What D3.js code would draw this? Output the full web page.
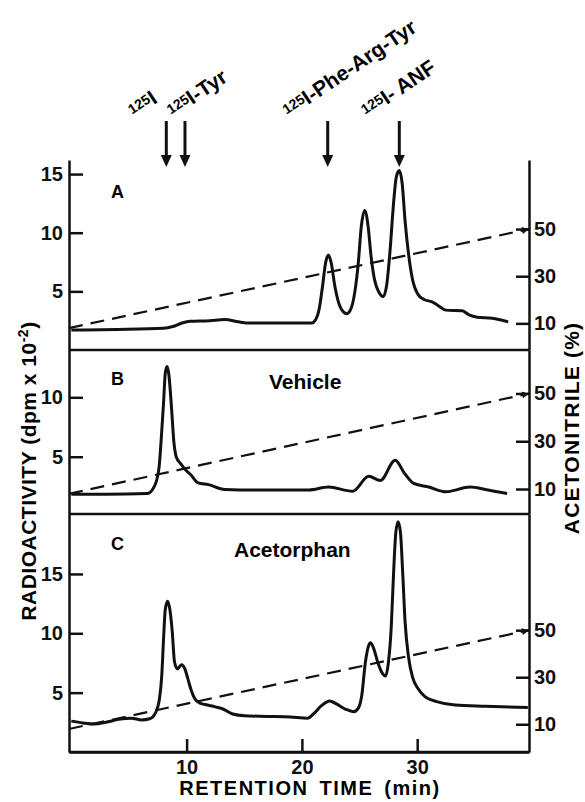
<!doctype html>
<html lang="en">
<head>
  <meta charset="utf-8">
  <title>Radioactivity profiles - HPLC</title>
  <script src="https://d3js.org/d3.v7.min.js"></script>
  <style>
    body { margin: 0; background: #fff; }
    svg { display: block; font-family: 'Liberation Sans', Arial, sans-serif; }
    .axis path, .axis line { stroke: #111; stroke-width: 2.5; }
    .axis text { font-size: 20px; font-weight: bold; fill: #111; }
  </style>
</head>
<body>
<svg id="chart" width="585" height="802"></svg>
<script>
// retention time (min) and radioactivity (dpm x 10^-2)
const timeA = [0, 4, 8.0, 8.8, 9.6, 10.3, 12, 13.3, 14.5, 15.5, 18, 20.85, 21.2, 21.5, 21.8, 22.05, 22.3, 22.55, 22.85, 23.2,
  23.6, 23.9, 24.25, 24.6, 24.9, 25.15, 25.45, 25.75, 26.0, 26.3, 26.7, 27.05, 27.35, 27.65, 27.95, 28.2, 28.45, 28.7, 28.95, 29.25,
  29.6, 30.1, 30.6, 31.3, 31.8, 32.5, 33.9, 34.5, 35.2, 36.5, 37.9];
const activityA = [1.7, 1.75, 1.85, 2.0, 2.3, 2.45, 2.5, 2.6, 2.4, 2.3, 2.3, 2.3, 2.6, 3.5, 5.5, 7.4, 8.1, 7.4, 5.5, 4.0,
  3.25, 3.1, 3.5, 5.0, 7.5, 10.5, 11.9, 10.5, 8.0, 6.0, 4.9, 4.55, 5.5, 8.5, 12.5, 14.8, 15.3, 14.2, 11.0, 8.2,
  6.0, 4.7, 4.3, 4.1, 3.8, 3.4, 3.35, 3.0, 2.8, 2.7, 2.4];

const timeB = [0, 3, 6.6, 7.2, 7.6, 7.8, 8.0, 8.15, 8.3, 8.45, 8.7, 8.9, 9.1, 9.5, 9.9, 10.35, 11.0, 11.9, 13.3, 16.4,
  20.6, 22.3, 24.4, 25.8, 26.8, 28.1, 28.9, 29.7, 31.0, 32.5, 34.6, 35.9, 37.8];
const activityB = [1.85, 1.85, 1.9, 2.5, 4.0, 6.5, 9.5, 12.0, 12.6, 12.0, 9.0, 6.2, 5.0, 4.4, 3.9, 3.5, 2.8, 2.65, 2.25, 2.2,
  2.2, 2.45, 2.1, 3.35, 3.0, 4.7, 3.6, 2.75, 2.45, 2.05, 2.45, 2.25, 1.9];

const timeC = [0, 1, 2, 3, 4.1, 5.2, 6.1, 6.8, 7.3, 7.65, 7.85, 8.0, 8.15, 8.35, 8.55, 8.75, 8.95, 9.2, 9.55, 9.85,
  10.1, 10.4, 10.7, 11.1, 11.6, 12.5, 13.2, 14.0, 15, 17, 19, 20.5, 21.0, 21.7, 22.4, 23.0, 23.8, 24.5, 24.9, 25.2,
  25.5, 25.8, 25.95, 26.2, 26.6, 27.0, 27.25, 27.5, 27.75, 27.95, 28.15, 28.35, 28.55, 28.75, 28.95, 29.25, 29.6, 30.1, 30.7, 31.7,
  33.3, 35.9, 39.6];
const activityC = [2.6, 2.45, 2.35, 2.5, 2.75, 2.85, 2.7, 2.8, 3.3, 4.5, 6.5, 9.5, 12.0, 12.7, 12.0, 10.2, 7.6, 7.0, 7.35, 7.0,
  6.2, 5.2, 4.5, 4.15, 4.0, 3.8, 3.6, 3.2, 3.05, 3.0, 2.95, 2.85, 3.2, 3.9, 4.3, 4.05, 3.6, 3.4, 3.7, 4.8,
  7.5, 9.0, 9.2, 8.8, 7.5, 6.6, 6.4, 7.5, 10.5, 15.0, 18.5, 19.4, 18.5, 15.0, 11.0, 8.0, 6.3, 5.3, 4.65, 4.25,
  3.95, 3.85, 3.75];

// acetonitrile gradient (%), same in every run
const gradientTime = [-0.2, 39.7];
const gradientPct = [8, 50];

// standards marked with arrows above panel A
const markerTimes = [8.24, 9.86, 22.24, 28.45];
const markerNames = ["I", "I-Tyr", "I-Phe-Arg-Tyr", "I- ANF"];

const panelNames = ["A", "B", "C"];
const panelTitles = ["", "Vehicle", "Acetorphan"];
const xTicks = [10, 20, 30];
const leftTicks = [[5, 10, 15], [5, 10], [5, 10, 15]];
const rightTicks = [10, 30, 50];

// layout
const left = 69, right = 529;
const panels = [
  { top: 160, bottom: 350, y: [0, 16.2], pct: [-1.3, 79.3], time: timeA, act: activityA, labelY: 198, titleY: 0, titleX: 0 },
  { top: 350, bottom: 514, y: [0.18, 13.98], pct: [-0.46, 68.2], time: timeB, act: activityB, labelY: 385, titleY: 389, titleX: 269 },
  { top: 514, bottom: 752, y: [0, 20.05], pct: [-1.8, 99.4], time: timeC, act: activityC, labelY: 550, titleY: 557, titleX: 234 }
];

const svg = d3.select("#chart");
const x = d3.scaleLinear().domain([-0.2, 39.7]).range([left, right]);

svg.append("defs").append("marker")
  .attr("id", "tip")
  .attr("viewBox", "0 0 10 10")
  .attr("refX", 10).attr("refY", 5)
  .attr("markerWidth", 9).attr("markerHeight", 7)
  .attr("markerUnits", "userSpaceOnUse")
  .attr("orient", "auto")
  .append("path").attr("d", "M0,0L10,5L0,10Z").attr("fill", "#111");

panels.forEach((p, i) => {
  const y = d3.scaleLinear().domain(p.y).range([p.bottom, p.top]);
  const yPct = d3.scaleLinear().domain(p.pct).range([p.bottom, p.top]);

  svg.append("g").attr("class", "axis")
    .attr("transform", `translate(${left},0)`)
    .call(d3.axisLeft(y).tickValues(leftTicks[i]).tickSize(-14).tickSizeOuter(0).tickPadding(6));

  svg.append("g").attr("class", "axis")
    .attr("transform", `translate(${right},0)`)
    .call(d3.axisRight(yPct).tickValues(rightTicks).tickSize(-13).tickSizeOuter(0).tickPadding(5));

  // frame line under each panel
  svg.append("line")
    .attr("x1", left).attr("x2", right)
    .attr("y1", p.bottom).attr("y2", p.bottom)
    .attr("stroke", "#111").attr("stroke-width", 2.5);

  // acetonitrile gradient
  const grad = gradientTime.map((t, k) => [t, gradientPct[k]]);
  svg.append("path")
    .attr("d", d3.line().x(d => x(d[0])).y(d => yPct(d[1]))(grad))
    .attr("fill", "none").attr("stroke", "#111")
    .attr("stroke-width", 2.2).attr("stroke-dasharray", "14,8")
    .attr("marker-end", "url(#tip)");

  // radioactivity trace
  const pts = p.time.map((t, k) => [t, p.act[k]]);
  svg.append("path")
    .attr("d", d3.line().x(d => x(d[0])).y(d => y(d[1])).curve(d3.curveMonotoneX)(pts))
    .attr("fill", "none").attr("stroke", "#111")
    .attr("stroke-width", 3).attr("stroke-linejoin", "round");

  svg.append("text")
    .attr("x", 111).attr("y", p.labelY)
    .attr("font-size", 18).attr("font-weight", "bold")
    .text(panelNames[i]);

  if (panelTitles[i]) {
    svg.append("text")
      .attr("x", p.titleX).attr("y", p.titleY)
      .attr("font-size", 21).attr("font-weight", "bold")
      .text(panelTitles[i]);
  }
});

// time axis
svg.append("g").attr("class", "axis")
  .attr("transform", "translate(0,752)")
  .call(d3.axisBottom(x).tickValues(xTicks).tickSize(-13).tickSizeOuter(0).tickPadding(8));

// arrows for the standards
const labelDx = [-32, -12, -39, -32];
markerTimes.forEach((t, i) => {
  const ax = x(t);
  svg.append("line")
    .attr("x1", ax).attr("x2", ax).attr("y1", 121).attr("y2", 157)
    .attr("stroke", "#111").attr("stroke-width", 3);
  svg.append("path")
    .attr("d", `M${ax - 5.5},155L${ax + 5.5},155L${ax},167Z`)
    .attr("fill", "#111");
  const lab = svg.append("text")
    .attr("transform", `translate(${ax + labelDx[i]},118) rotate(-34)`)
    .attr("font-weight", "bold");
  lab.append("tspan").attr("font-size", 14).attr("dy", -4).text("125");
  lab.append("tspan").attr("font-size", 21).attr("dy", 4).text(markerNames[i]);
});

// axis titles
const yTitle = svg.append("text")
  .attr("transform", "translate(36,471) rotate(-90)")
  .attr("text-anchor", "middle")
  .attr("font-size", 21).attr("font-weight", "bold")
  .attr("letter-spacing", 0.5);
yTitle.append("tspan").text("RADIOACTIVITY (dpm x 10");
yTitle.append("tspan").attr("font-size", 14).attr("dy", -8).text("-2");
yTitle.append("tspan").attr("dy", 8).text(")");

svg.append("text")
  .attr("transform", "translate(579,428) rotate(-90)")
  .attr("text-anchor", "middle")
  .attr("font-size", 21).attr("font-weight", "bold")
  .attr("letter-spacing", 1.2)
  .text("ACETONITRILE (%)");

svg.append("text")
  .attr("x", 310).attr("y", 795)
  .attr("text-anchor", "middle")
  .attr("font-size", 20).attr("font-weight", "bold")
  .attr("letter-spacing", 1.5).attr("word-spacing", 4)
  .text("RETENTION TIME (min)");
</script>
</body>
</html>
